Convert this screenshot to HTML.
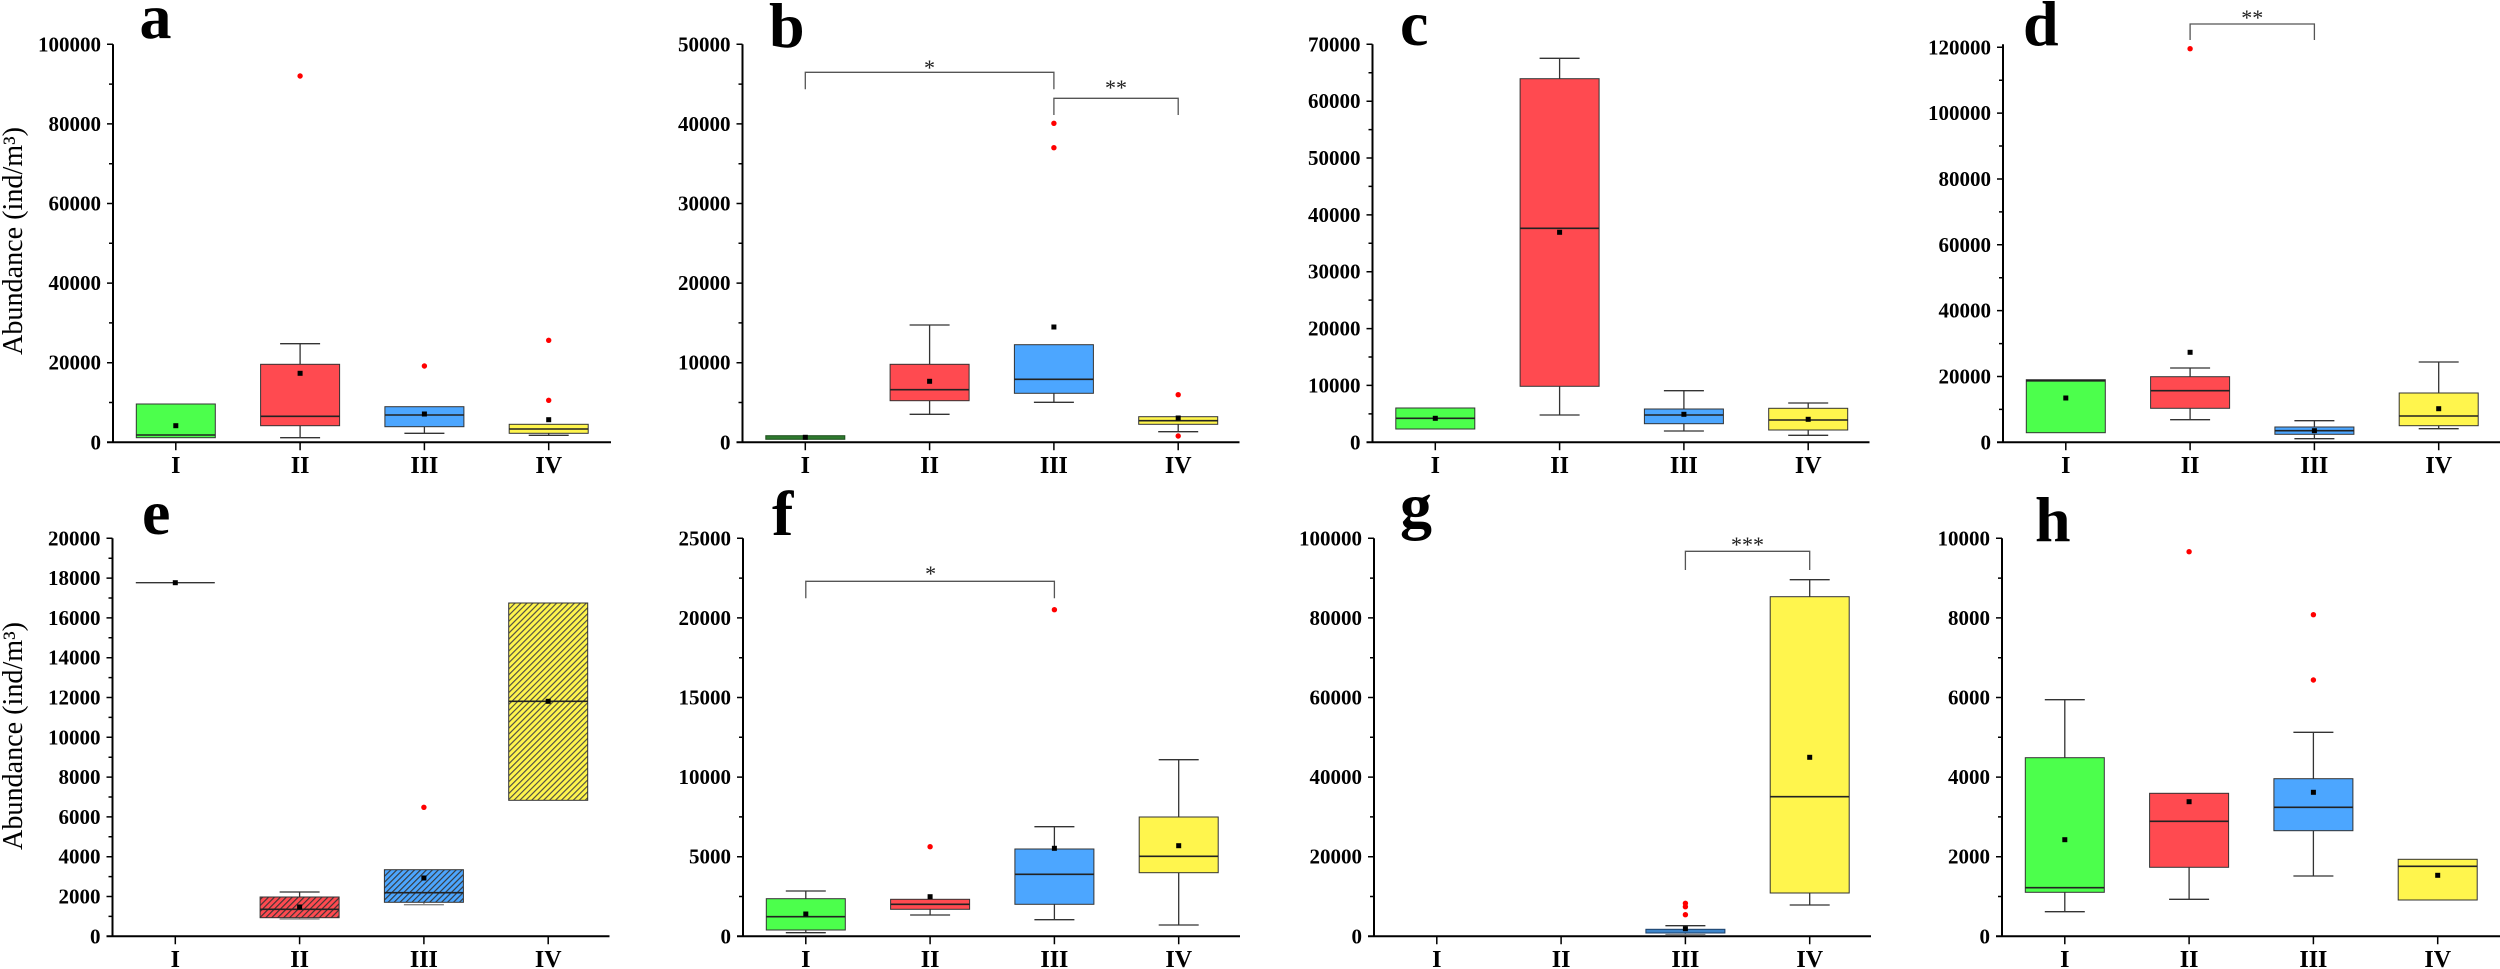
<!DOCTYPE html>
<html><head><meta charset="utf-8"><style>
html,body{margin:0;padding:0;background:#fff;}
svg{display:block;}
.ax{stroke:#000;stroke-width:2;fill:none}
.tk{stroke:#000;stroke-width:1.5;fill:none}
.tl{font-family:"Liberation Serif",serif;font-weight:bold;font-size:21px;text-anchor:end;fill:#000}
.cl{font-family:"Liberation Serif",serif;font-weight:bold;font-size:24px;text-anchor:middle;fill:#000}
.lt{font-family:"Liberation Serif",serif;font-weight:bold;font-size:64px;fill:#000}
.yl{font-family:"Liberation Serif",serif;font-size:28px;text-anchor:middle;fill:#000}
.st{font-family:"Liberation Serif",serif;font-size:22px;text-anchor:middle;fill:#222}
.bx{stroke:#333;stroke-width:1}
.md{stroke:#222;stroke-width:1.6;fill:none}
.wh{stroke:#333;stroke-width:1.3;fill:none}
.wg{stroke:#888;stroke-width:1.3;fill:none}
.br{stroke:#555;stroke-width:1.3;fill:none}
.mn{fill:#000}
.ol{fill:#ff0000}
.G{fill:#4cff4c}.R{fill:#ff4a50}.B{fill:#4ca6ff}.Y{fill:#fff54d}
</style></head><body>
<svg width="2500" height="969" viewBox="0 0 2500 969" xmlns="http://www.w3.org/2000/svg">
<defs>
<pattern id="hR" patternUnits="userSpaceOnUse" width="4.2" height="4.2" patternTransform="rotate(45)"><rect width="4.2" height="4.2" fill="#ff4a50"/><line x1="0.6" y1="0" x2="0.6" y2="4.2" stroke="#333" stroke-width="1.1"/></pattern>
<pattern id="hB" patternUnits="userSpaceOnUse" width="4.2" height="4.2" patternTransform="rotate(45)"><rect width="4.2" height="4.2" fill="#4ca6ff"/><line x1="0.6" y1="0" x2="0.6" y2="4.2" stroke="#333" stroke-width="1.1"/></pattern>
<pattern id="hY" patternUnits="userSpaceOnUse" width="4.2" height="4.2" patternTransform="rotate(45)"><rect width="4.2" height="4.2" fill="#fff54d"/><line x1="0.6" y1="0" x2="0.6" y2="4.2" stroke="#444" stroke-width="1.1"/></pattern>
</defs>

<!-- panel letters -->
<text class="lt" x="139.5" y="38">a</text>
<text class="lt" x="769" y="47">b</text>
<text class="lt" x="1400" y="45">c</text>
<text class="lt" x="2023" y="45">d</text>
<text class="lt" x="142" y="534">e</text>
<text class="lt" x="772" y="535">f</text>
<text class="lt" x="1400" y="527">g</text>
<text class="lt" x="2035" y="541">h</text>

<!-- y axis titles -->
<text class="yl" transform="translate(22,241) rotate(-90)" textLength="228" lengthAdjust="spacingAndGlyphs">Abundance (ind/m³)</text>
<text class="yl" transform="translate(22,736) rotate(-90)" textLength="228" lengthAdjust="spacingAndGlyphs">Abundance (ind/m³)</text>

<!-- ===== Panel a ===== -->
<g transform="translate(113,0)">
<path class="ax" d="M0,44.3V442.3M-6,442.3H498"/>
<path class="tk" d="M-6,362.7h6M-6,283.1h6M-6,203.5h6M-6,123.9h6M-6,44.3h6M-4,402.5h4M-4,322.9h4M-4,243.3h4M-4,163.7h4M-4,84.1h4M62.8,442.3v8M187.1,442.3v8M311.4,442.3v8M435.7,442.3v8"/>
<text class="tl" x="-12" y="449.3">0</text>
<text class="tl" x="-12" y="369.7">20000</text>
<text class="tl" x="-12" y="290.1">40000</text>
<text class="tl" x="-12" y="210.5">60000</text>
<text class="tl" x="-12" y="130.9">80000</text>
<text class="tl" x="-12" y="51.3">100000</text>
<text class="cl" x="62.8" y="473">I</text><text class="cl" x="187.1" y="473">II</text><text class="cl" x="311.4" y="473">III</text><text class="cl" x="435.7" y="473">IV</text>
<rect class="bx G" x="23.3" y="404" width="79" height="33.7"/><path class="md" d="M23.3,435H102.3"/><rect class="mn" x="60.3" y="423.2" width="5" height="5"/>
<path class="wh" d="M187.1,364.3V343.7M167.1,343.7H207.1M187.1,425.7V437.7M167.1,437.7H207.1"/>
<rect class="bx R" x="147.6" y="364.3" width="79" height="61.4"/><path class="md" d="M147.6,416.3H226.6"/><rect class="mn" x="184.6" y="370.8" width="5" height="5"/><circle class="ol" cx="187.1" cy="76" r="2.7"/>
<path class="wh" d="M311.4,426.7V433.3M291.4,433.3H331.4"/>
<rect class="bx B" x="271.9" y="406.7" width="79" height="20"/><path class="md" d="M271.9,415H350.9"/><rect class="mn" x="308.9" y="411.5" width="5" height="5"/><circle class="ol" cx="311.4" cy="366" r="2.7"/>
<path class="wh" d="M435.7,433.3V435.3M415.7,435.3H455.7"/>
<rect class="bx Y" x="396.2" y="424.3" width="79" height="9"/><path class="md" d="M396.2,429H475.2"/><rect class="mn" x="433.2" y="417.2" width="5" height="5"/><circle class="ol" cx="435.7" cy="340.3" r="2.7"/><circle class="ol" cx="435.7" cy="400.3" r="2.7"/>
</g>

<!-- ===== Panel b ===== -->
<g transform="translate(742.5,0)">
<path class="ax" d="M0,44.3V442.3M-6,442.3H497"/>
<path class="tk" d="M-6,362.7h6M-6,283.1h6M-6,203.5h6M-6,123.9h6M-6,44.3h6M-4,402.5h4M-4,322.9h4M-4,243.3h4M-4,163.7h4M-4,84.1h4M62.8,442.3v8M187.1,442.3v8M311.4,442.3v8M435.7,442.3v8"/>
<text class="tl" x="-12" y="449.3">0</text>
<text class="tl" x="-12" y="369.7">10000</text>
<text class="tl" x="-12" y="290.1">20000</text>
<text class="tl" x="-12" y="210.5">30000</text>
<text class="tl" x="-12" y="130.9">40000</text>
<text class="tl" x="-12" y="51.3">50000</text>
<text class="cl" x="62.8" y="473">I</text><text class="cl" x="187.1" y="473">II</text><text class="cl" x="311.4" y="473">III</text><text class="cl" x="435.7" y="473">IV</text>
<rect x="23.3" y="435.7" width="79" height="3.6" fill="#2e7a2e" stroke="#1e4e1e" stroke-width="1"/><rect class="mn" x="60.3" y="434.8" width="5" height="5"/>
<path class="wh" d="M187.1,364.3V325M167.1,325H207.1M187.1,400.7V414.3M167.1,414.3H207.1"/>
<rect class="bx R" x="147.6" y="364.3" width="79" height="36.4"/><path class="md" d="M147.6,389.7H226.6"/><rect class="mn" x="184.6" y="378.8" width="5" height="5"/>
<path class="wh" d="M311.4,393.3V402.3M291.4,402.3H331.4"/>
<rect class="bx B" x="271.9" y="344.7" width="79" height="48.6"/><path class="md" d="M271.9,379.3H350.9"/><rect class="mn" x="308.9" y="324.5" width="5" height="5"/><circle class="ol" cx="311.4" cy="123.3" r="2.7"/><circle class="ol" cx="311.4" cy="147.7" r="2.7"/>
<path class="wh" d="M435.7,424.3V431.7M415.7,431.7H455.7"/>
<rect class="bx Y" x="396.2" y="416.7" width="79" height="7.6"/><path class="md" d="M396.2,420.7H475.2"/><rect class="mn" x="433.2" y="415.5" width="5" height="5"/><circle class="ol" cx="435.7" cy="394.7" r="2.7"/><circle class="ol" cx="435.7" cy="436" r="2.7"/>
<path class="br" d="M62.8,89.3V72.3H311.4V89.3M311.4,115V98.3H435.7V115"/>
<text class="st" x="187" y="75">*</text>
<text class="st" x="373.5" y="95">**</text>
</g>

<!-- ===== Panel c ===== -->
<g transform="translate(1372.5,0)">
<path class="ax" d="M0,44.3V442.3M-6,442.3H497"/>
<path class="tk" d="M-6,385.4h6M-6,328.6h6M-6,271.7h6M-6,214.9h6M-6,158h6M-6,101.2h6M-6,44.3h6M-4,413.9h4M-4,357h4M-4,300.1h4M-4,243.3h4M-4,186.4h4M-4,129.6h4M-4,72.7h4M62.8,442.3v8M187.1,442.3v8M311.4,442.3v8M435.7,442.3v8"/>
<text class="tl" x="-12" y="449.3">0</text>
<text class="tl" x="-12" y="392.4">10000</text>
<text class="tl" x="-12" y="335.6">20000</text>
<text class="tl" x="-12" y="278.7">30000</text>
<text class="tl" x="-12" y="221.9">40000</text>
<text class="tl" x="-12" y="165">50000</text>
<text class="tl" x="-12" y="108.2">60000</text>
<text class="tl" x="-12" y="51.3">70000</text>
<text class="cl" x="62.8" y="473">I</text><text class="cl" x="187.1" y="473">II</text><text class="cl" x="311.4" y="473">III</text><text class="cl" x="435.7" y="473">IV</text>
<rect class="bx G" x="23.3" y="408" width="79" height="21"/><path class="md" d="M23.3,418.3H102.3"/><rect class="mn" x="60.3" y="415.8" width="5" height="5"/>
<path class="wh" d="M187.1,78.7V58.3M167.1,58.3H207.1M187.1,386.3V415M167.1,415H207.1"/>
<rect class="bx R" x="147.6" y="78.7" width="79" height="307.6"/><path class="md" d="M147.6,228.3H226.6"/><rect class="mn" x="184.6" y="229.8" width="5" height="5"/>
<path class="wh" d="M311.4,409V390.7M291.4,390.7H331.4M311.4,423.7V431M291.4,431H331.4"/>
<rect class="bx B" x="271.9" y="409" width="79" height="14.7"/><path class="md" d="M271.9,415H350.9"/><rect class="mn" x="308.9" y="411.8" width="5" height="5"/>
<path class="wh" d="M435.7,408.3V403M415.7,403H455.7M435.7,430V435.3M415.7,435.3H455.7"/>
<rect class="bx Y" x="396.2" y="408.3" width="79" height="21.7"/><path class="md" d="M396.2,420H475.2"/><rect class="mn" x="433.2" y="416.8" width="5" height="5"/>
</g>

<!-- ===== Panel d ===== -->
<g transform="translate(2003,0)">
<path class="ax" d="M0,44.3V442.3M-6,442.3H497"/>
<path class="tk" d="M-6,376.5h6M-6,310.6h6M-6,244.8h6M-6,179h6M-6,113.1h6M-6,47.3h6M-4,409.4h4M-4,343.6h4M-4,277.7h4M-4,211.9h4M-4,146h4M-4,80.2h4M62.8,442.3v8M187.1,442.3v8M311.4,442.3v8M435.7,442.3v8"/>
<text class="tl" x="-12" y="449.3">0</text>
<text class="tl" x="-12" y="383.5">20000</text>
<text class="tl" x="-12" y="317.6">40000</text>
<text class="tl" x="-12" y="251.8">60000</text>
<text class="tl" x="-12" y="186">80000</text>
<text class="tl" x="-12" y="120.1">100000</text>
<text class="tl" x="-12" y="54.3">120000</text>
<text class="cl" x="62.8" y="473">I</text><text class="cl" x="187.1" y="473">II</text><text class="cl" x="311.4" y="473">III</text><text class="cl" x="435.7" y="473">IV</text>
<rect class="bx G" x="23.3" y="379.7" width="79" height="53"/><path class="md" d="M23.3,380.8H102.3"/><rect class="mn" x="60.3" y="395.5" width="5" height="5"/>
<path class="wh" d="M187.1,376.7V368M167.1,368H207.1M187.1,408.3V419.7M167.1,419.7H207.1"/>
<rect class="bx R" x="147.6" y="376.7" width="79" height="31.6"/><path class="md" d="M147.6,390.7H226.6"/><rect class="mn" x="184.6" y="349.8" width="5" height="5"/><circle class="ol" cx="187.1" cy="48.7" r="2.7"/>
<path class="wh" d="M311.4,427V420.7M291.4,420.7H331.4M311.4,434.3V438.7M291.4,438.7H331.4"/>
<rect class="bx B" x="271.9" y="427" width="79" height="7.3"/><path class="md" d="M271.9,430.7H350.9"/><rect class="mn" x="308.9" y="428.2" width="5" height="5"/>
<path class="wh" d="M435.7,393V362M415.7,362H455.7M435.7,425.7V428.7M415.7,428.7H455.7"/>
<rect class="bx Y" x="396.2" y="393" width="79" height="32.7"/><path class="md" d="M396.2,416H475.2"/><rect class="mn" x="433.2" y="406.2" width="5" height="5"/>
<path class="br" d="M187.1,40V24H311.4V40"/>
<text class="st" x="249.2" y="25">**</text>
</g>

<!-- ===== Panel e ===== -->
<g transform="translate(112.5,494)">
<path class="ax" d="M0,44.3V442.3M-6,442.3H497"/>
<path class="tk" d="M-6,402.5h6M-6,362.7h6M-6,322.9h6M-6,283.1h6M-6,243.3h6M-6,203.5h6M-6,163.7h6M-6,123.9h6M-6,84.1h6M-6,44.3h6M-4,422.4h4M-4,382.6h4M-4,342.8h4M-4,303h4M-4,263.2h4M-4,223.4h4M-4,183.6h4M-4,143.8h4M-4,104h4M-4,64.2h4M62.8,442.3v8M187.1,442.3v8M311.4,442.3v8M435.7,442.3v8"/>
<text class="tl" x="-12" y="449.3">0</text>
<text class="tl" x="-12" y="409.5">2000</text>
<text class="tl" x="-12" y="369.7">4000</text>
<text class="tl" x="-12" y="329.9">6000</text>
<text class="tl" x="-12" y="290.1">8000</text>
<text class="tl" x="-12" y="250.3">10000</text>
<text class="tl" x="-12" y="210.5">12000</text>
<text class="tl" x="-12" y="170.7">14000</text>
<text class="tl" x="-12" y="130.9">16000</text>
<text class="tl" x="-12" y="91.1">18000</text>
<text class="tl" x="-12" y="51.3">20000</text>
<text class="cl" x="62.8" y="473">I</text><text class="cl" x="187.1" y="473">II</text><text class="cl" x="311.4" y="473">III</text><text class="cl" x="435.7" y="473">IV</text>
<path class="wh" d="M23.3,88.7H102.3"/><rect class="mn" x="60.3" y="86.2" width="5" height="5"/>
<path class="wh" d="M187.1,403V398M167.1,398H207.1"/><path class="wg" d="M187.1,423.7V425M167.1,425H207.1"/>
<rect x="147.6" y="403" width="79" height="20.7" fill="url(#hR)" stroke="#333" stroke-width="1"/><path class="md" d="M147.6,415.3H226.6"/><rect class="mn" x="184.6" y="410.5" width="5" height="5"/>
<path class="wg" d="M311.4,408.3V410.7M291.4,410.7H331.4"/>
<rect x="271.9" y="375.7" width="79" height="32.6" fill="url(#hB)" stroke="#333" stroke-width="1"/><path class="md" d="M271.9,398.7H350.9"/><rect class="mn" x="308.9" y="381.5" width="5" height="5"/><circle class="ol" cx="311.4" cy="313.3" r="2.7"/>
<rect x="396.2" y="109" width="79" height="197.3" fill="url(#hY)" stroke="#333" stroke-width="1"/><path class="md" d="M396.2,207.3H475.2"/><rect class="mn" x="433.2" y="204.8" width="5" height="5"/>
</g>

<!-- ===== Panel f ===== -->
<g transform="translate(743,494)">
<path class="ax" d="M0,44.3V442.3M-6,442.3H497"/>
<path class="tk" d="M-6,362.7h6M-6,283.1h6M-6,203.5h6M-6,123.9h6M-6,44.3h6M-4,402.5h4M-4,322.9h4M-4,243.3h4M-4,163.7h4M-4,84.1h4M62.8,442.3v8M187.1,442.3v8M311.4,442.3v8M435.7,442.3v8"/>
<text class="tl" x="-12" y="449.3">0</text>
<text class="tl" x="-12" y="369.7">5000</text>
<text class="tl" x="-12" y="290.1">10000</text>
<text class="tl" x="-12" y="210.5">15000</text>
<text class="tl" x="-12" y="130.9">20000</text>
<text class="tl" x="-12" y="51.3">25000</text>
<text class="cl" x="62.8" y="473">I</text><text class="cl" x="187.1" y="473">II</text><text class="cl" x="311.4" y="473">III</text><text class="cl" x="435.7" y="473">IV</text>
<path class="wh" d="M62.8,404.7V397M42.8,397H82.8M62.8,436V438.7M42.8,438.7H82.8"/>
<rect class="bx G" x="23.3" y="404.7" width="79" height="31.3"/><path class="md" d="M23.3,422.7H102.3"/><rect class="mn" x="60.3" y="417.5" width="5" height="5"/>
<path class="wh" d="M187.1,415.3V421M167.1,421H207.1"/>
<rect class="bx R" x="147.6" y="405.3" width="79" height="10"/><path class="md" d="M147.6,410.3H226.6"/><rect class="mn" x="184.6" y="400.2" width="5" height="5"/><circle class="ol" cx="187.1" cy="352.7" r="2.7"/>
<path class="wh" d="M311.4,355V332.7M291.4,332.7H331.4M311.4,410.3V425.7M291.4,425.7H331.4"/>
<rect class="bx B" x="271.9" y="355" width="79" height="55.3"/><path class="md" d="M271.9,380.3H350.9"/><rect class="mn" x="308.9" y="351.8" width="5" height="5"/><circle class="ol" cx="311.4" cy="115.7" r="2.7"/>
<path class="wh" d="M435.7,323V265.7M415.7,265.7H455.7M435.7,378.7V431M415.7,431H455.7"/>
<rect class="bx Y" x="396.2" y="323" width="79" height="55.7"/><path class="md" d="M396.2,362.3H475.2"/><rect class="mn" x="433.2" y="349.2" width="5" height="5"/>
<path class="br" d="M62.8,104.3V87.3H311.4V104.3"/>
<text class="st" x="187.6" y="87">*</text>
</g>

<!-- ===== Panel g ===== -->
<g transform="translate(1374,494)">
<path class="ax" d="M0,44.3V442.3M-6,442.3H497"/>
<path class="tk" d="M-6,362.7h6M-6,283.1h6M-6,203.5h6M-6,123.9h6M-6,44.3h6M-4,402.5h4M-4,322.9h4M-4,243.3h4M-4,163.7h4M-4,84.1h4M62.8,442.3v8M187.1,442.3v8M311.4,442.3v8M435.7,442.3v8"/>
<text class="tl" x="-12" y="449.3">0</text>
<text class="tl" x="-12" y="369.7">20000</text>
<text class="tl" x="-12" y="290.1">40000</text>
<text class="tl" x="-12" y="210.5">60000</text>
<text class="tl" x="-12" y="130.9">80000</text>
<text class="tl" x="-12" y="51.3">100000</text>
<text class="cl" x="62.8" y="473">I</text><text class="cl" x="187.1" y="473">II</text><text class="cl" x="311.4" y="473">III</text><text class="cl" x="435.7" y="473">IV</text>
<path class="wh" d="M311.4,435.3V431.7M291.4,431.7H331.4"/><path class="wg" d="M311.4,439V441M291.4,440.5H331.4"/>
<rect x="271.9" y="435.3" width="79" height="3.7" fill="#3d86cc" stroke="#1c3e66" stroke-width="1"/><rect class="mn" x="308.9" y="432.2" width="5" height="5"/>
<circle class="ol" cx="311.4" cy="409.3" r="2.7"/><circle class="ol" cx="311.4" cy="412.7" r="2.7"/><circle class="ol" cx="311.4" cy="420.7" r="2.7"/>
<path class="wh" d="M435.7,102.7V85.7M415.7,85.7H455.7M435.7,399V411M415.7,411H455.7"/>
<rect class="bx Y" x="396.2" y="102.7" width="79" height="296.3"/><path class="md" d="M396.2,302.7H475.2"/><rect class="mn" x="433.2" y="260.8" width="5" height="5"/>
<path class="br" d="M311.4,76V57.3H435.7V76"/>
<text class="st" x="373.5" y="58">***</text>
</g>

<!-- ===== Panel h ===== -->
<g transform="translate(2002,494)">
<path class="ax" d="M0,44.3V442.3M-6,442.3H498"/>
<path class="tk" d="M-6,362.7h6M-6,283.1h6M-6,203.5h6M-6,123.9h6M-6,44.3h6M-4,402.5h4M-4,322.9h4M-4,243.3h4M-4,163.7h4M-4,84.1h4M62.8,442.3v8M187.1,442.3v8M311.4,442.3v8M435.7,442.3v8"/>
<text class="tl" x="-12" y="449.3">0</text>
<text class="tl" x="-12" y="369.7">2000</text>
<text class="tl" x="-12" y="290.1">4000</text>
<text class="tl" x="-12" y="210.5">6000</text>
<text class="tl" x="-12" y="130.9">8000</text>
<text class="tl" x="-12" y="51.3">10000</text>
<text class="cl" x="62.8" y="473">I</text><text class="cl" x="187.1" y="473">II</text><text class="cl" x="311.4" y="473">III</text><text class="cl" x="435.7" y="473">IV</text>
<path class="wh" d="M62.8,263.7V205.7M42.8,205.7H82.8M62.8,398.3V417.7M42.8,417.7H82.8"/>
<rect class="bx G" x="23.3" y="263.7" width="79" height="134.6"/><path class="md" d="M23.3,393.7H102.3"/><rect class="mn" x="60.3" y="343.2" width="5" height="5"/>
<path class="wh" d="M187.1,373.3V405.3M167.1,405.3H207.1"/>
<rect class="bx R" x="147.6" y="299.3" width="79" height="74"/><path class="md" d="M147.6,327.3H226.6"/><rect class="mn" x="184.6" y="305.2" width="5" height="5"/><circle class="ol" cx="187.1" cy="57.7" r="2.7"/>
<path class="wh" d="M311.4,284.7V238.3M291.4,238.3H331.4M311.4,336.7V382M291.4,382H331.4"/>
<rect class="bx B" x="271.9" y="284.7" width="79" height="52"/><path class="md" d="M271.9,313.3H350.9"/><rect class="mn" x="308.9" y="295.8" width="5" height="5"/><circle class="ol" cx="311.4" cy="120.7" r="2.7"/><circle class="ol" cx="311.4" cy="186" r="2.7"/>
<rect class="bx Y" x="396.2" y="365.3" width="79" height="40.7"/><path class="md" d="M396.2,372.3H475.2"/><rect class="mn" x="433.2" y="378.8" width="5" height="5"/>
</g>
</svg>
</body></html>
